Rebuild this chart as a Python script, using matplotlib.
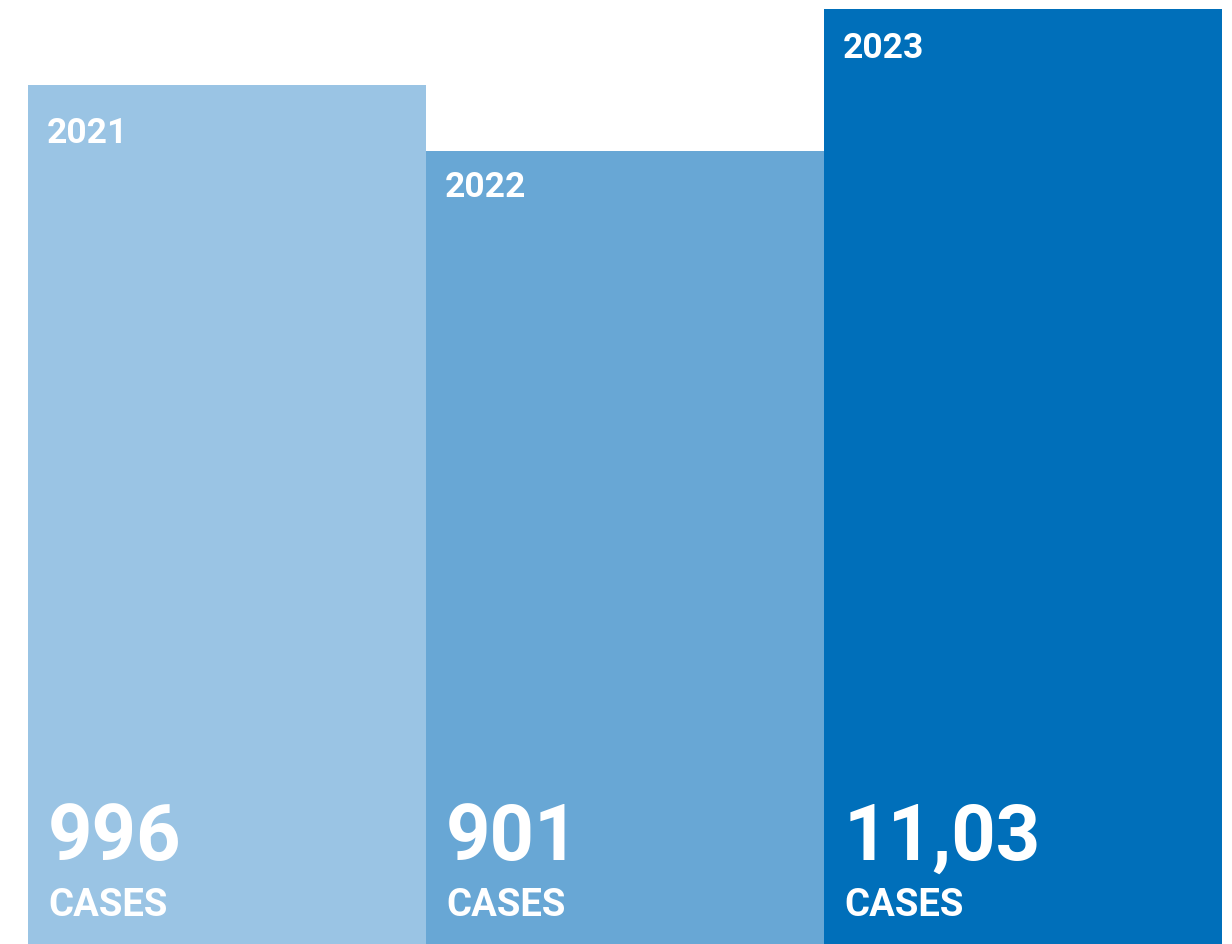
import matplotlib
matplotlib.use("Agg")
import matplotlib.pyplot as plt

years = ["2021", "2022", "2023"]
cases = [996, 901, 1103]
value_labels = ["996", "901", "11,03"]
unit_label = "CASES"
colors = ["#9AC4E4", "#68A7D5", "#006FBA"]

# style: vertical pixel offsets of the year labels below each bar top
year_offsets = [-57, -45, -48]

plt.rcParams["font.family"] = ["Roboto", "DejaVu Sans"]

fig = plt.figure(figsize=(12.32, 9.45), dpi=100)
ax = fig.add_axes([0, 0, 1, 1])

base = -224.3  # axis floor (truncated scale)
x = list(range(len(cases)))
ax.bar(x, [v - base for v in cases], bottom=base, width=1.0, align="edge",
       color=colors, linewidth=0)

ax.set_xlim(-0.0704, 3.025)
ax.set_ylim(base, 1117.4)
ax.axis("off")

for i, (yr, v, lab) in enumerate(zip(years, cases, value_labels)):
    ax.annotate(yr, xy=(i, v), xytext=(19, year_offsets[i]), textcoords="offset pixels",
                color="white", fontsize=25.5, fontweight="bold",
                ha="left", va="baseline")
    ax.annotate(lab, xy=(i, 0), xycoords=("data", "axes fraction"),
                xytext=(20, 85), textcoords="offset pixels",
                color="white", fontsize=56, fontweight="bold",
                ha="left", va="baseline")
    ax.annotate(unit_label, xy=(i, 0), xycoords=("data", "axes fraction"),
                xytext=(20, 29), textcoords="offset pixels",
                color="white", fontsize=27.5, fontweight="bold",
                ha="left", va="baseline")

fig.savefig("out.png", dpi=100)
